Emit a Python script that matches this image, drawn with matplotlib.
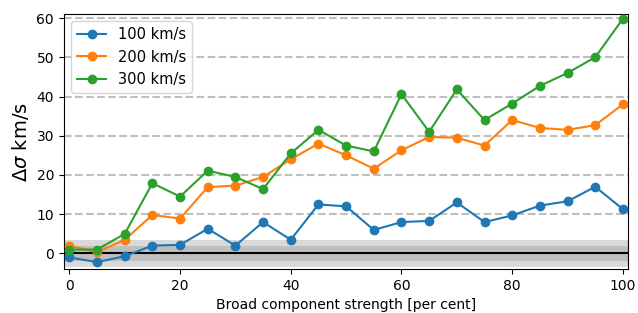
import matplotlib
matplotlib.use("Agg")
import matplotlib.pyplot as plt

strength = list(range(0, 101, 5))
sigma_100 = [-1.0, -2.2, -0.7, 2.0, 2.2, 6.3, 2.0, 8.0, 3.5, 12.5, 12.0,
             6.0, 8.0, 8.3, 13.0, 8.0, 9.7, 12.2, 13.3, 17.0, 11.3]
sigma_200 = [2.0, 0.3, 3.5, 9.8, 8.9, 16.9, 17.3, 19.5, 24.0, 28.0, 25.0,
             21.6, 26.3, 29.7, 29.5, 27.5, 34.0, 32.0, 31.5, 32.7, 38.0]
sigma_300 = [1.0, 1.0, 5.0, 17.9, 14.5, 21.1, 19.5, 16.4, 25.5, 31.5, 27.5,
             26.0, 40.6, 31.0, 41.8, 34.0, 38.2, 42.7, 46.0, 50.0, 59.8]
labels = ["100 km/s", "200 km/s", "300 km/s"]

fig, ax = plt.subplots(figsize=(6.38, 3.13), dpi=100)

# uncertainty bands around zero
ax.axhspan(-3.5, 3.5, color="0.85", zorder=0, lw=0)
ax.axhspan(-2, 2, color="0.75", zorder=0, lw=0)
ax.axhline(0, color="black", lw=1.5, zorder=1)

for y in range(10, 61, 10):
    ax.axhline(y, color="0.75", ls="--", lw=1.5, zorder=0)

for vals, lab in zip([sigma_100, sigma_200, sigma_300], labels):
    ax.plot(strength, vals, marker="o", label=lab, zorder=3)

ax.set_xlim(-1, 101)
ax.set_ylim(-4, 61)
ax.set_xlabel("Broad component strength [per cent]")
ax.set_ylabel(r"$\Delta\sigma$ km/s", fontsize=14)
ax.legend(loc="upper left", fontsize=10.5)

fig.subplots_adjust(left=0.1, right=0.985, top=0.955, bottom=0.14)
fig.savefig("out.png")
